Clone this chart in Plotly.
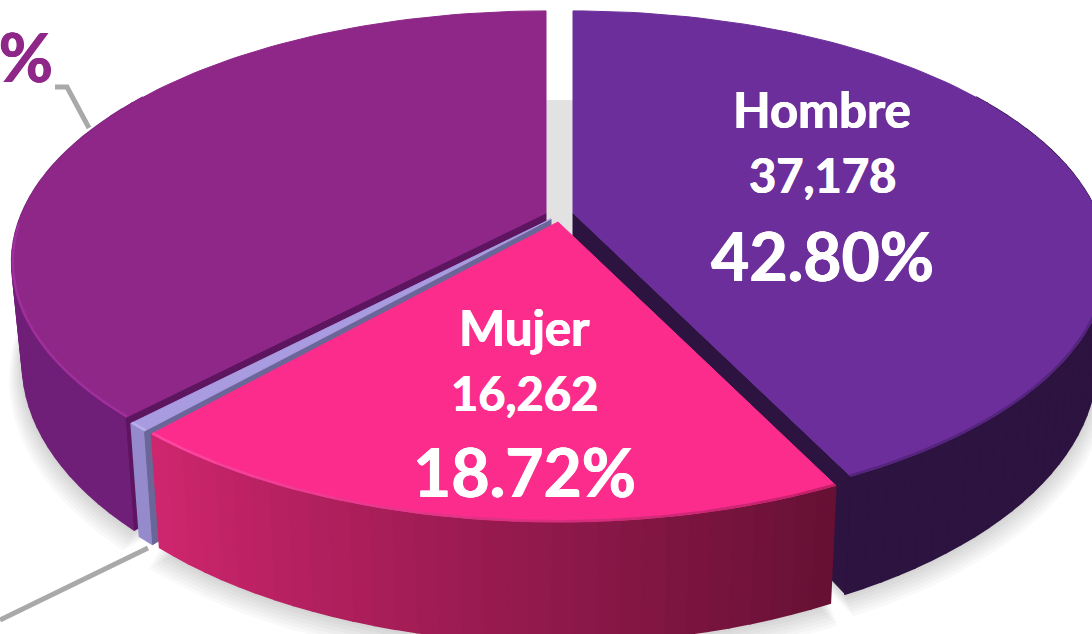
import math
import plotly.graph_objects as go

# ---- data ----
categories = ["Hombre", "Mujer", "Otro", "No especificado"]
counts = [37178, 16262, 478, 32946]
percents = [42.80, 18.72, 0.55, 37.93]
count_labels = ["37,178", "16,262"]

# ---- styles ----
TOP = ["#6c2e9b", "#fc2c8d", "#a99be0", "#8e2788"]
RIM_L = ["#4c2272", "#ff55ac", "#c4b8f0", "#a733a4"]
RIM_R = ["#4c2272", "#a81c5c", "#c4b8f0", "#a733a4"]
CUT = ["#2d1340", None, "#6b6698", "#5e1560"]
WALL_L = ["#2d1340", "#d0266f", "#9a8fd0", "#701f78"]
WALL_R = ["#2d1340", "#651033", "#8f85c8", "#701f78"]
APEX = [(573, 213), (558, 222), (551, 219), (546, 213)]

A, B, K, H, S = 524.0, 241.5, 0.195, 97.0, 0.98
W, HT = 1092, 634


def proj(i, deg, r=1.0, z=0.0):
    t = math.radians(deg)
    u, v = r * math.sin(t), -r * math.cos(t)
    w = 1 - K * v
    ax, ay = APEX[i]
    sc = 1 - (1 - S) * z
    return ax + A * u / w * sc, ay + B * v / w + H * z / w


def hex2rgb(c):
    return tuple(int(c[j:j + 2], 16) for j in (1, 3, 5))


def mix(a, b, f):
    ra, rb = hex2rgb(a), hex2rgb(b)
    return "#%02x%02x%02x" % tuple(round(ra[j] + (rb[j] - ra[j]) * f) for j in range(3))


# slice angles follow from the percentages (clockwise from 12 o'clock)
edges = [0.0]
for p in percents:
    edges.append(edges[-1] + p * 3.6)

fig = go.Figure()


def poly(pts, fill, line=None, lw=1.0):
    fig.add_trace(go.Scatter(
        x=[p[0] for p in pts] + [pts[0][0]], y=[p[1] for p in pts] + [pts[0][1]],
        mode="lines", fill="toself", fillcolor=fill,
        line=dict(color=line or fill, width=lw), hoverinfo="skip", showlegend=False))


def arc(i, a0, a1, z=0.0, r=1.0, n=None):
    n = n or max(2, int(abs(a1 - a0) / 1.5))
    return [proj(i, a0 + (a1 - a0) * j / n, r, z) for j in range(n + 1)]


def shadow(i):
    a0, a1 = edges[i], edges[i + 1]
    for s in range(1, 8):
        pts = [proj(i, 0, 0, 1)] + arc(i, a0, a1, 1, 1 + 0.0035 * s)
        pts = [(x, y + 2.0 * s) for x, y in pts]
        fig.add_trace(go.Scatter(
            x=[p[0] for p in pts] + [pts[0][0]], y=[p[1] for p in pts] + [pts[0][1]],
            mode="lines", fill="toself", fillcolor="rgba(0,0,0,0.022)",
            line=dict(width=0), hoverinfo="skip", showlegend=False))


def draw_slice(i, cut_deg=None):
    a0, a1 = edges[i], edges[i + 1]
    # outer wall in thin strips: gives the metallic gradient and never self-overlaps
    n = max(1, int((a1 - a0) / 2))
    for j in range(n):
        d0 = a0 + (a1 - a0) * j / n
        d1 = a0 + (a1 - a0) * (j + 1) / n
        if 60 < d1 and d0 < 300:
            col = mix(WALL_R[i], WALL_L[i], (j + 0.5) / n)
            poly(arc(i, d0, d1, 0, n=2) + arc(i, d1, d0, 1, n=2), col, lw=1.8)
    # radial cut face
    if cut_deg is not None:
        poly([proj(i, cut_deg, 0, 0), proj(i, cut_deg, 1, 0),
              proj(i, cut_deg, 1, 1), proj(i, cut_deg, 0, 1)], CUT[i])
    # top face
    poly([proj(i, 0, 0, 0)] + arc(i, a0, a1), TOP[i])
    # bevel along the rim
    m = max(2, int((a1 - a0) / 4))
    for j in range(m):
        d0 = a0 + (a1 - a0) * j / m
        d1 = a0 + (a1 - a0) * (j + 1) / m
        if 98 < d0 and d1 < 268:
            seg = arc(i, d0, d1, r=0.998, n=3)
            fig.add_trace(go.Scatter(
                x=[p[0] for p in seg], y=[p[1] for p in seg], mode="lines",
                line=dict(color=mix(RIM_R[i], RIM_L[i], (j + 0.5) / m), width=2.5), opacity=0.7,
                hoverinfo="skip", showlegend=False))


for i in (0, 1, 3):
    shadow(i)

draw_slice(0, edges[1])
draw_slice(3, edges[3])
draw_slice(2, edges[2])
draw_slice(1)


def font(size, color):
    return dict(family="Lato, Carlito, sans-serif", size=size, color=color,
                shadow=f"0.6px 0 0 {color}, -0.6px 0 0 {color}")


def label(x, y, text, size, color="white"):
    fig.add_annotation(x=x, y=y, text=f"<b>{text}</b>", showarrow=False, xref="x", yref="y",
                       xanchor="center", yanchor="middle", font=font(size, color))


label(822, 109, categories[0], 49)
label(822, 175, count_labels[0], 47)
label(822, 255, f"{percents[0]:.2f}%", 66)
label(524, 327, categories[1], 49)
label(524, 393, count_labels[1], 47)
label(524, 471, f"{percents[1]:.2f}%", 66)
fig.add_annotation(x=55, y=56, text=f"<b>{percents[3]:.2f}%</b>", showarrow=False, xref="x", yref="y",
                   xanchor="right", yanchor="middle", font=font(66, TOP[3]))

fig.update_layout(
    width=W, height=HT, margin=dict(l=0, r=0, t=0, b=0), showlegend=False,
    paper_bgcolor="white", plot_bgcolor="white",
    xaxis=dict(range=[0, W], visible=False, fixedrange=True),
    yaxis=dict(range=[HT, 0], visible=False, fixedrange=True),
    shapes=[
        dict(type="rect", x0=546, x1=574, y0=100, y1=240, fillcolor="#e2e2e2",
             line=dict(width=0), layer="below"),
        dict(type="path", path="M55,87 L67,87 L89,128", line=dict(color="#a9a9a9", width=5)),
        dict(type="path", path="M0,620 L148,548", line=dict(color="#a9a9a9", width=5)),
    ],
)
fig.write_html("out.html", config={"displayModeBar": False},
               post_script="document.body.style.margin='0';")
